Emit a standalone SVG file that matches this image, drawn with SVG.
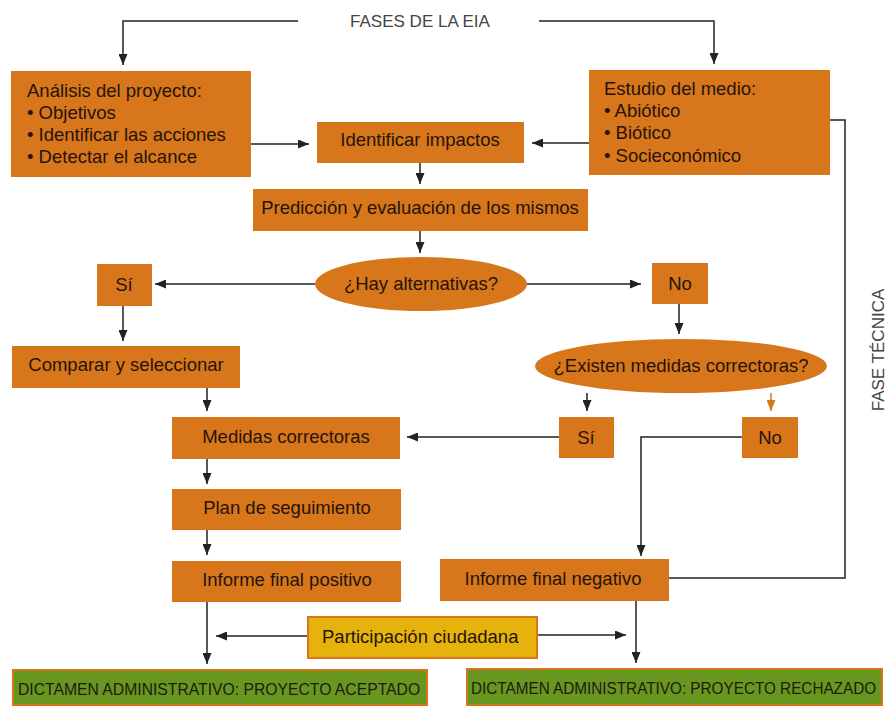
<svg xmlns="http://www.w3.org/2000/svg" width="887" height="706" viewBox="0 0 887 706">
<defs>
<style>
.box{fill:#d8761b;}
.yel{fill:#e6b30c;stroke:#d8761b;stroke-width:2;}
.grn{fill:#68961f;stroke:#d8761b;stroke-width:2;}
.t{font-family:"Liberation Sans",Arial,sans-serif;font-size:18.5px;fill:#24140a;}
.tc{font-family:"Liberation Sans",Arial,sans-serif;font-size:18.5px;fill:#24140a;text-anchor:middle;}
.g{font-family:"Liberation Sans",Arial,sans-serif;font-size:17px;fill:#1c1c10;}
.h{font-family:"Liberation Sans",Arial,sans-serif;font-size:17px;fill:#444;}
.c{fill:none;stroke:#222;stroke-width:1.5;}
.co{fill:none;stroke:#d8761b;stroke-width:1.5;}
</style>
<marker id="a" markerUnits="userSpaceOnUse" markerWidth="11" markerHeight="9" refX="11" refY="4.5" orient="auto">
<path d="M0,0 L11,4.5 L0,9 z" fill="#222"/>
</marker>
<marker id="ao" markerUnits="userSpaceOnUse" markerWidth="11" markerHeight="9" refX="11" refY="4.5" orient="auto">
<path d="M0,0 L11,4.5 L0,9 z" fill="#d8761b"/>
</marker>
</defs>
<rect width="887" height="706" fill="#fff"/>

<g id="title"><text class="h" x="420" y="27" text-anchor="middle">FASES DE LA EIA</text></g>
<g id="fase-tecnica"><text class="h" text-anchor="middle" transform="translate(884 350) rotate(-90)">FASE TÉCNICA</text></g>

<g id="connectors">
<path class="c" d="M298,21 H123 V65" marker-end="url(#a)"/>
<path class="c" d="M539,21 H714 V64" marker-end="url(#a)"/>
<path class="c" d="M251,144 H309" marker-end="url(#a)"/>
<path class="c" d="M589,143 H532" marker-end="url(#a)"/>
<path class="c" d="M420,163 V184" marker-end="url(#a)"/>
<path class="c" d="M420,231 V253" marker-end="url(#a)"/>
<path class="c" d="M315,284 H155" marker-end="url(#a)"/>
<path class="c" d="M527,284 H641" marker-end="url(#a)"/>
<path class="c" d="M679,304 V334" marker-end="url(#a)"/>
<path class="c" d="M587,393 V411" marker-end="url(#a)"/>
<path class="co" d="M771,393 V411" marker-end="url(#ao)"/>
<path class="c" d="M559,437 H407" marker-end="url(#a)"/>
<path class="c" d="M742,437 H641 V556" marker-end="url(#a)"/>
<path class="c" d="M123,306 V341" marker-end="url(#a)"/>
<path class="c" d="M207,388 V411" marker-end="url(#a)"/>
<path class="c" d="M207,459 V484" marker-end="url(#a)"/>
<path class="c" d="M207,530 V555" marker-end="url(#a)"/>
<path class="c" d="M207,602 V664" marker-end="url(#a)"/>
<path class="c" d="M636,601 V663" marker-end="url(#a)"/>
<path class="c" d="M308,636 H216" marker-end="url(#a)"/>
<path class="c" d="M537,635 H626" marker-end="url(#a)"/>
<path class="c" d="M669,578 H845 V120 H830"/>
</g>

<g id="analisis">
<rect class="box" x="11" y="71" width="240" height="106"/>
<text class="t" x="27" y="97">Análisis del proyecto:</text>
<text class="t" x="27" y="119">• Objetivos</text>
<text class="t" x="27" y="141">• Identificar las acciones</text>
<text class="t" x="27" y="163">• Detectar el alcance</text>
</g>

<g id="estudio">
<rect class="box" x="589" y="70" width="241" height="105"/>
<text class="t" x="604" y="95">Estudio del medio:</text>
<text class="t" x="604" y="117">• Abiótico</text>
<text class="t" x="604" y="139">• Biótico</text>
<text class="t" x="604" y="162">• Socieconómico</text>
</g>

<g id="identificar">
<rect class="box" x="317" y="122" width="207" height="41"/>
<text class="tc" x="420" y="146">Identificar impactos</text>
</g>

<g id="prediccion">
<rect class="box" x="253" y="189" width="335" height="42"/>
<text class="tc" x="420" y="214">Predicción y evaluación de los mismos</text>
</g>

<g id="hay-alternativas">
<ellipse class="box" cx="421" cy="284" rx="106" ry="27"/>
<text class="tc" x="421" y="290">¿Hay alternativas?</text>
</g>

<g id="si1">
<rect class="box" x="97" y="264" width="55" height="42"/>
<text class="tc" x="124" y="291">Sí</text>
</g>

<g id="no1">
<rect class="box" x="652" y="263" width="56" height="41"/>
<text class="tc" x="680" y="290">No</text>
</g>

<g id="existen">
<ellipse class="box" cx="681" cy="366" rx="146" ry="27"/>
<text class="tc" x="681" y="372">¿Existen medidas correctoras?</text>
</g>

<g id="comparar">
<rect class="box" x="12" y="346" width="228" height="42"/>
<text class="tc" x="126" y="371">Comparar y seleccionar</text>
</g>

<g id="si2">
<rect class="box" x="559" y="417" width="55" height="41"/>
<text class="tc" x="586" y="444">Sí</text>
</g>

<g id="no2">
<rect class="box" x="742" y="417" width="56" height="41"/>
<text class="tc" x="770" y="444">No</text>
</g>

<g id="medidas">
<rect class="box" x="172" y="417" width="228" height="42"/>
<text class="tc" x="286" y="443">Medidas correctoras</text>
</g>

<g id="plan">
<rect class="box" x="172" y="489" width="229" height="41"/>
<text class="tc" x="287" y="514">Plan de seguimiento</text>
</g>

<g id="informe-positivo">
<rect class="box" x="172" y="561" width="229" height="41"/>
<text class="tc" x="287" y="586">Informe final positivo</text>
</g>

<g id="informe-negativo">
<rect class="box" x="440" y="559" width="229" height="42"/>
<text class="tc" x="553" y="585">Informe final negativo</text>
</g>

<g id="participacion">
<rect class="yel" x="308" y="617" width="229" height="41"/>
<text class="t" x="322" y="643">Participación ciudadana</text>
</g>

<g id="aceptado">
<rect class="grn" x="13" y="670" width="414" height="35"/>
<text class="g" transform="translate(18 695) scale(0.925 1)">DICTAMEN ADMINISTRATIVO: PROYECTO ACEPTADO</text>
</g>

<g id="rechazado">
<rect class="grn" x="467" y="669" width="415" height="36"/>
<text class="g" transform="translate(471 694) scale(0.9 1)">DICTAMEN ADMINISTRATIVO: PROYECTO RECHAZADO</text>
</g>
</svg>
